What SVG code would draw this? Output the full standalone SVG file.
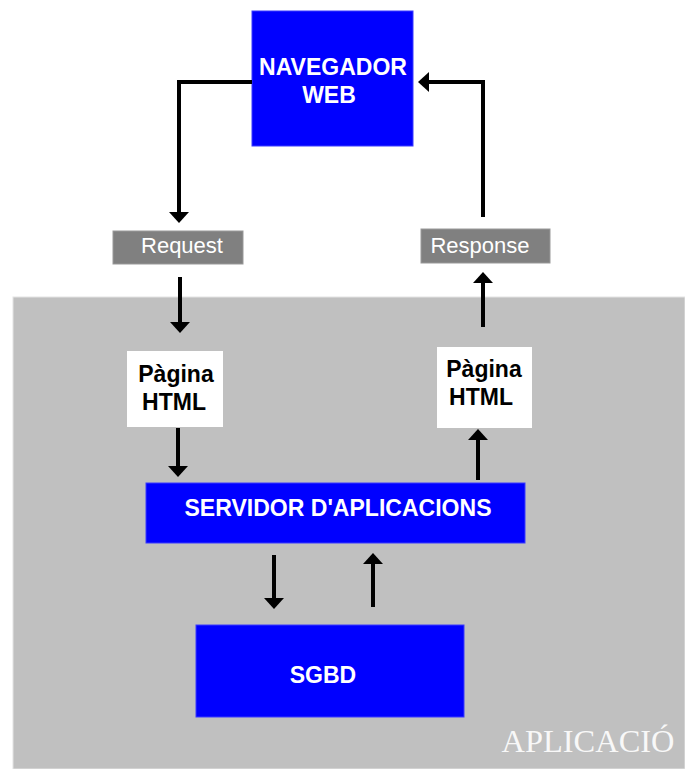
<svg xmlns="http://www.w3.org/2000/svg" width="685" height="769" viewBox="0 0 685 769">
<defs>
<style>
.blue{fill:#0000ff;stroke:#3a3aff;stroke-width:1}
.lbl{fill:#808080;stroke:#999;stroke-width:1}
.page{fill:#ffffff}
.wt{font-family:"Liberation Sans",Arial,sans-serif;font-weight:bold;font-size:23px;fill:#ffffff;text-anchor:middle}
.bt{font-family:"Liberation Sans",Arial,sans-serif;font-weight:bold;font-size:23px;fill:#000000;text-anchor:middle}
.lt{font-family:"Liberation Sans",Arial,sans-serif;font-size:22px;fill:#ffffff;text-anchor:middle}
.conn{fill:none;stroke:#000;stroke-width:4}
</style>
<marker id="ah" markerUnits="userSpaceOnUse" markerWidth="11" markerHeight="20" refX="5" refY="10" orient="auto">
<path d="M0,0 L11,10 L0,20 z" fill="#000"/>
</marker>
</defs>
<rect x="0" y="0" width="685" height="769" fill="#ffffff"/>
<g id="aplicacio">
<rect x="13" y="297" width="672" height="472" fill="#c0c0c0" stroke="#e4e4e4" stroke-width="1"/>
<text x="588" y="752" font-family="'Liberation Serif','Times New Roman',serif" font-size="31" fill="#f8f8f8" text-anchor="middle" textLength="173" lengthAdjust="spacingAndGlyphs">APLICACIÓ</text>
</g>
<g id="navegador">
<rect class="blue" x="252" y="11" width="161" height="135"/>
<text class="wt" x="333" y="75">NAVEGADOR</text>
<text class="wt" x="329" y="103">WEB</text>
</g>
<g id="request">
<rect class="lbl" x="113" y="231" width="130" height="33"/>
<text class="lt" x="182" y="253">Request</text>
</g>
<g id="response">
<rect class="lbl" x="421" y="229" width="129" height="34"/>
<text class="lt" x="480" y="253">Response</text>
</g>
<g id="pagina1">
<rect class="page" x="127" y="351" width="96" height="76"/>
<text class="bt" x="176" y="382">Pàgina</text>
<text class="bt" x="174" y="410">HTML</text>
</g>
<g id="pagina2">
<rect class="page" x="437" y="347" width="95" height="81"/>
<text class="bt" x="484" y="377">Pàgina</text>
<text class="bt" x="481" y="405">HTML</text>
</g>
<g id="servidor">
<rect class="blue" x="146" y="483" width="379" height="60"/>
<text class="wt" x="338" y="516" textLength="307" lengthAdjust="spacingAndGlyphs">SERVIDOR D'APLICACIONS</text>
</g>
<g id="sgbd">
<rect class="blue" x="196" y="625" width="268" height="92"/>
<text class="wt" x="323" y="683">SGBD</text>
</g>
<g id="connectors">
<path class="conn" d="M252,82 H179 V217" marker-end="url(#ah)"/>
<path class="conn" d="M483,217 V82 H424" marker-end="url(#ah)"/>
<path class="conn" d="M180,277 V327" marker-end="url(#ah)"/>
<path class="conn" d="M483,327 V278" marker-end="url(#ah)"/>
<path class="conn" d="M178,428 V471" marker-end="url(#ah)"/>
<path class="conn" d="M478,480 V435" marker-end="url(#ah)"/>
<path class="conn" d="M274,555 V603" marker-end="url(#ah)"/>
<path class="conn" d="M373,607 V559" marker-end="url(#ah)"/>
</g>
</svg>
